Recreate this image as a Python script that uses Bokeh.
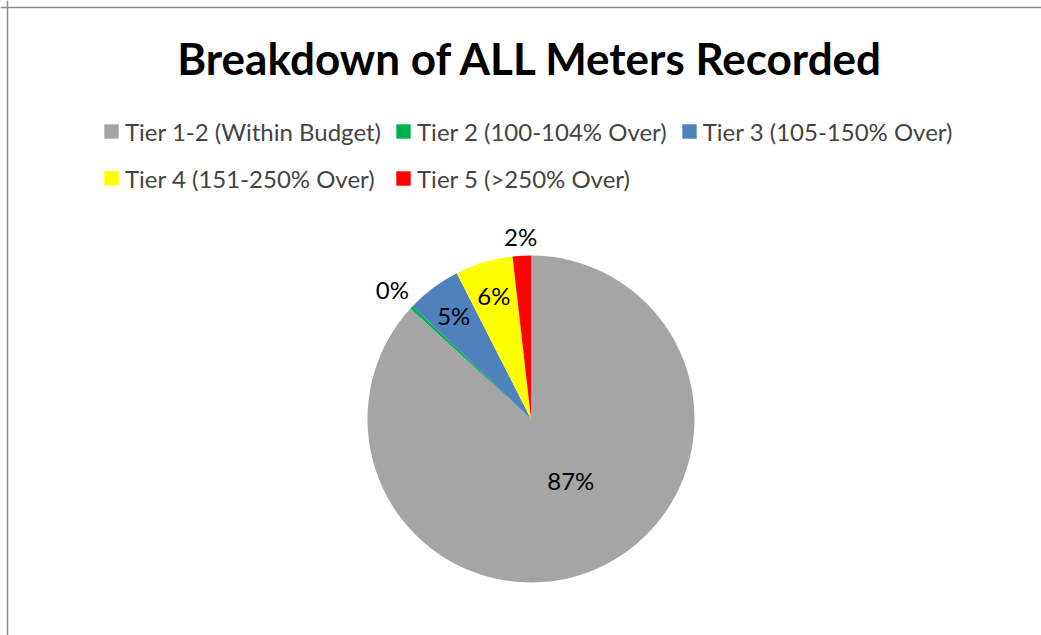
import numpy as np
from bokeh.plotting import figure
from bokeh.models import ColumnDataSource, Range1d, Span, Legend, LegendItem, Label
from bokeh.core.properties import value
from bokeh.embed import file_html
from bokeh.resources import INLINE

# ---- data ----
categories = ["Tier 1-2 (Within Budget)", "Tier 2 (100-104% Over)",
              "Tier 3 (105-150% Over)", "Tier 4 (151-250% Over)",
              "Tier 5 (>250% Over)"]
shares = [86.8, 0.3, 5.4, 5.7, 1.8]
colors = ["#A5A5A5", "#00B050", "#4F81BD", "#FFFF00", "#FF0000"]
# label placement styling: distance as fraction of radius, angular shift (deg)
label_radius = [0.45, 1.16, 0.79, 0.79, 1.12]
label_shift = [-9, 0, 0, 0, 0]

# ---- layout ----
W, H = 1041, 635
cx, cy, R = 530.5, 216.5, 163.5
FONT = "Lato"

vals = np.array(shares, dtype=float)
frac = vals / vals.sum()
cum = np.cumsum(frac)
start = np.pi / 2 - 2 * np.pi * cum
end = np.pi / 2 - 2 * np.pi * (cum - frac)
mid = (start + end) / 2 - np.radians(label_shift)
lr = np.array(label_radius)
lx = cx + lr * R * np.cos(mid)
ly = cy + lr * R * np.sin(mid)
labels = [f"{round(v / vals.sum() * 100):.0f}%" for v in vals]

src = ColumnDataSource(dict(cat=categories, start=start, end=end, color=colors,
                            lx=lx, ly=ly, lab=labels))

p = figure(width=W, height=H, x_range=Range1d(0, W), y_range=Range1d(0, H),
           min_border=0, toolbar_location=None, output_backend="svg",
           x_axis_type=None, y_axis_type=None, outline_line_color=None)
p.grid.visible = False

r = p.wedge(x=cx, y=cy, radius=R, start_angle="start", end_angle="end",
            fill_color="color", line_color=None, source=src)

p.text(x="lx", y="ly", text="lab", source=src, text_align="center",
       text_baseline="middle", text_font=value(FONT), text_font_size="24px",
       text_color="black")

p.add_layout(Label(x=cx, y=H - 57, text="Breakdown of ALL Meters Recorded",
                   text_align="center", text_baseline="middle",
                   text_font=FONT, text_font_size="44px",
                   text_font_style="bold", text_color="black"))

# chart border (left and top edges visible)
p.add_layout(Span(location=7, dimension="height", line_color="#8C8C8C", line_width=1.5))
p.add_layout(Span(location=H - 7, dimension="width", line_color="#8C8C8C", line_width=1.5))

items = [LegendItem(label=c, renderers=[r], index=i) for i, c in enumerate(categories)]
legend = Legend(items=items, location=(102, 440), orientation="horizontal", ncols=3,
                glyph_width=18, glyph_height=18, label_standoff=5,
                label_text_font=FONT, label_text_font_size="24px",
                label_height=34, spacing=13, padding=0, margin=0,
                border_line_color=None, background_fill_alpha=0)
p.add_layout(legend)

open("out.html", "w").write(file_html(p, INLINE))
